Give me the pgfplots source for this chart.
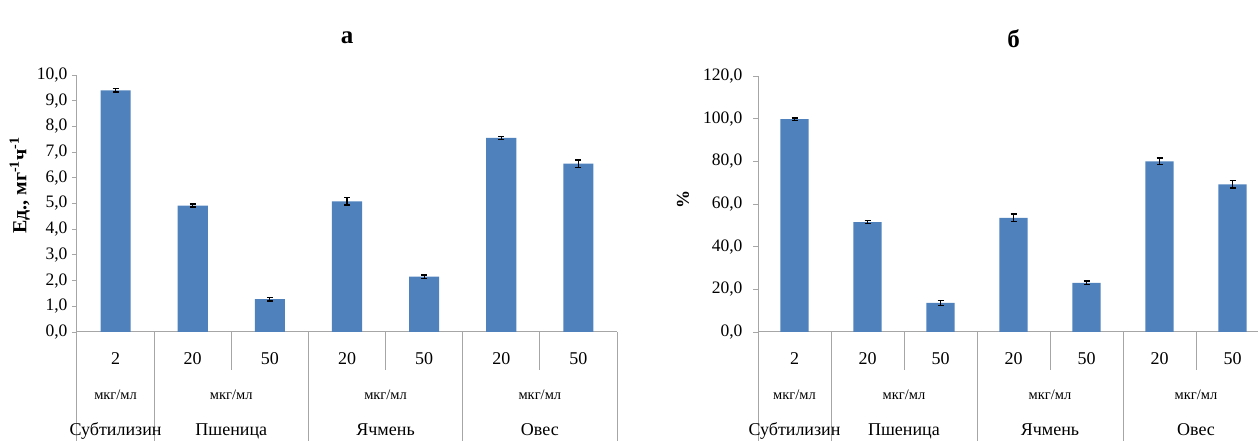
\documentclass[border=0pt]{standalone}
\usepackage{pgfplots}
\pgfplotsset{compat=1.18}
\usepackage{pgfplotstable}
\usepackage{fontspec}
\setmainfont{Liberation Serif}
\definecolor{barblue}{HTML}{4F81BD}
\definecolor{axgray}{HTML}{A6A6A6}

\pgfplotstableread{
x y e
0 9.40 0.06
1 4.92 0.06
2 1.28 0.07
3 5.08 0.14
4 2.15 0.07
5 7.55 0.06
6 6.55 0.14
}\dataA

\pgfplotstableread{
x y e
0 99.8 0.5
1 51.5 0.6
2 13.6 1.2
3 53.5 1.8
4 23.0 0.9
5 80.0 1.6
6 69.2 1.7
}\dataB

\pgfplotsset{
  mybars/.style={
    scale only axis,
    anchor=south west,
    ybar,
    bar width=0.39,
    xmin=-0.5, xmax=6.5,
    ymin=0,
    clip=false,
    axis x line*=bottom,
    axis y line*=left,
    axis line style={axgray, line width=1pt, -},
    xtick=data,
    xticklabels={2,20,50,20,50,20,50},
    x tick style={draw=none},
    y tick style={axgray, line width=0.8pt},
    tick align=outside,
    major tick length=5pt,
    xticklabel style={anchor=base, yshift=-28pt, font=\fontsize{18}{20}\selectfont},
    yticklabel style={font=\fontsize{17.5}{20}\selectfont, xshift=-1pt},
    /pgf/number format/.cd, fixed, fixed zerofill, precision=1, use comma, assume math mode=true,
  },
  errstyle/.style={
    fill=barblue, draw=none,
    error bars/.cd, y dir=both, y explicit,
    error bar style={black, line width=1.2pt},
    error mark options={rotate=90, mark size=3pt, black, line width=1.2pt},
  },
}

\newcommand{\catlabels}{%
  \pgfplotsinvokeforeach{-0.5,0.5,2.5,4.5,6.5}{%
    \draw[axgray, line width=1pt] (axis cs:##1,0) -- ++(0pt,-130pt);}%
  \pgfplotsinvokeforeach{1.5,3.5,5.5}{%
    \draw[axgray, line width=1pt] (axis cs:##1,0) -- ++(0pt,-38pt);}%
  \pgfplotsinvokeforeach{0,1.5,3.5,5.5}{%
    \node[anchor=base, font=\fontsize{14.5}{16}\selectfont, yshift=-68pt] at (axis cs:##1,0) {мкг/мл};}%
  \node[anchor=base, font=\fontsize{18}{20}\selectfont, yshift=-103pt] at (axis cs:0,0) {Субтилизин};
  \node[anchor=base, font=\fontsize{18}{20}\selectfont, yshift=-103pt] at (axis cs:1.5,0) {Пшеница};
  \node[anchor=base, font=\fontsize{18}{20}\selectfont, yshift=-103pt] at (axis cs:3.5,0) {Ячмень};
  \node[anchor=base, font=\fontsize{18}{20}\selectfont, yshift=-103pt] at (axis cs:5.5,0) {Овес};
}

\begin{document}
\begin{tikzpicture}[x=1pt,y=1pt]
\useasboundingbox (0,0) rectangle (1258,441);

\begin{axis}[mybars,
  at={(77pt,109pt)},
  width=540pt, height=257pt,
  ymax=10, ytick={0,1,...,10},
  ylabel={Ед., мг\textsuperscript{-1}ч\textsuperscript{-1}},
  ylabel style={at={(rel axis cs:-0.106,0.57)}, anchor=center, font=\bfseries\fontsize{20}{22}\selectfont},
]
\addplot[errstyle] table[x=x, y=y, y error=e]{\dataA};
\catlabels
\node[font=\bfseries\fontsize{25}{28}\selectfont] at (rel axis cs:0.5,1) [yshift=37pt] {а};
\end{axis}

\begin{axis}[mybars,
  at={(758pt,109pt)},
  width=511pt, height=256pt,
  ymax=120, ytick={0,20,...,120},
  yticklabel style={xshift=-6pt},
  ylabel={\%},
  ylabel style={at={(rel axis cs:-0.147,0.516)}, anchor=center, font=\bfseries\fontsize{18}{20}\selectfont},
]
\addplot[errstyle] table[x=x, y=y, y error=e]{\dataB};
\catlabels
\node[font=\bfseries\fontsize{25}{28}\selectfont] at (rel axis cs:0.5,1) [yshift=37pt] {б};
\end{axis}
\end{tikzpicture}
\end{document}
